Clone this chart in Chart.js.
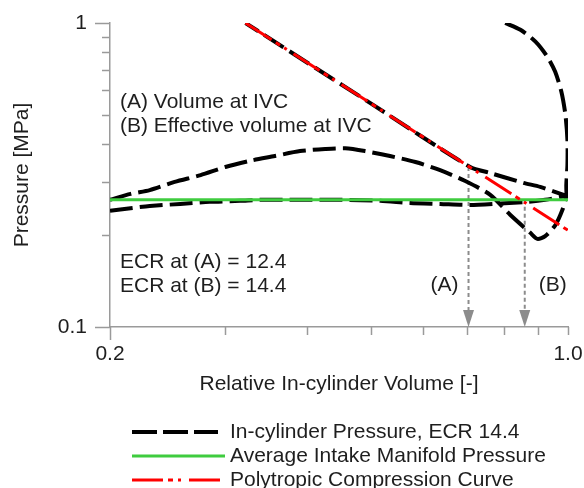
<!DOCTYPE html>
<html><head><meta charset="utf-8">
<script src="https://cdn.jsdelivr.net/npm/chart.js@4/dist/chart.umd.min.js"></script>
<style>html,body{margin:0;padding:0;background:#fff}#wrap{width:584px;height:488px}</style>
</head><body><div id="wrap"><canvas id="c" width="584" height="488"></canvas></div>
<script>
const FONT = "'Liberation Sans', Arial, sans-serif";

// Relative in-cylinder volume [-] and pressure [MPa] along the cycle
const expansionVol = [0.802, 0.846, 0.892, 0.930, 0.956, 0.977, 0.991, 0.998, 0.998, 0.994, 0.995];
const expansionP   = [1.000, 0.950, 0.868, 0.774, 0.691, 0.594, 0.499, 0.412, 0.341, 0.293, 0.270];
const exhaustVol = [0.995, 0.980, 0.956, 0.923, 0.898, 0.876, 0.816, 0.761, 0.697, 0.638, 0.585, 0.535, 0.490, 0.457, 0.426, 0.390, 0.357, 0.327, 0.300, 0.275, 0.251, 0.230, 0.215, 0.200];
const exhaustP   = [0.270, 0.242, 0.216, 0.199, 0.195, 0.204, 0.234, 0.272, 0.302, 0.328, 0.349, 0.365, 0.379, 0.387, 0.385, 0.379, 0.365, 0.352, 0.336, 0.316, 0.300, 0.282, 0.274, 0.262];
const intakeVol = [0.200, 0.215, 0.230, 0.256, 0.284, 0.316, 0.339, 0.390, 0.449, 0.517, 0.574, 0.638, 0.709, 0.788, 0.867, 0.923, 0.995];
const intakeP   = [0.241, 0.246, 0.250, 0.254, 0.258, 0.260, 0.262, 0.262, 0.262, 0.260, 0.256, 0.254, 0.252, 0.255, 0.258, 0.262, 0.270];
const compressionVol = [0.995, 0.907, 0.855, 0.761, 0.709, 0.500, 0.322];
const compressionP   = [0.270, 0.289, 0.298, 0.321, 0.336, 0.544, 1.000];

// Average intake manifold pressure
const manifoldVol = [0.2, 1.0];
const manifoldP   = [0.262, 0.262];

// Polytropic compression curve
const polyVol = [0.322, 0.500, 1.000];
const polyP   = [1.000, 0.544, 0.208];

// IVC markers: (A) volume at IVC, (B) effective volume at IVC
const ivcVol    = [0.705, 0.859];
const ivcP      = [0.336, 0.262];
const ivcLabels = ['(A)', '(B)'];

// Axis ticks
const xTicks = [0.2, 0.3, 0.4, 0.5, 0.6, 0.7, 0.8, 0.9, 1.0];
const xTickLabels = { 0.2: '0.2', 1: '1.0' };
const xLongTicks = [0.2];
const yTicks = [0.1, 0.2, 0.3, 0.4, 0.5, 0.6, 0.7, 0.8, 0.9, 1];
const yTickLabels = { 0.1: '0.1', 1: '1' };
const yLongTicks = [0.1, 1];

const notesTop = ['(A) Volume at IVC', '(B) Effective volume at IVC'];
const notesEcr = ['ECR at (A) = 12.4', 'ECR at (B) = 14.4'];

const seriesNames = ['In-cylinder Pressure, ECR 14.4', 'Average Intake Manifold Pressure', 'Polytropic Compression Curve'];

const pts = (xs, ys) => xs.map((x, i) => ({ x, y: ys[i] }));

const cylinderPath = [
  ...pts(expansionVol, expansionP),
  ...pts(exhaustVol, exhaustP),
  { x: 0.2, y: null },
  ...pts(intakeVol, intakeP),
  ...pts(compressionVol, compressionP)
];

const AXIS = '#9a9a9a';
const TEXT = '#1e1e1e';
const BLACK_DASH = [23, 7];
const RED_DASH = [31, 5, 5, 5, 3, 8];

const decor = {
  id: 'decor',
  beforeDatasetsDraw(chart) {
    const { ctx, scales: { x, y }, chartArea } = chart;
    ctx.save();
    // dotted arrows down to the volume axis
    ctx.strokeStyle = '#8c8c8c';
    ctx.fillStyle = '#8c8c8c';
    ivcVol.forEach((v, i) => {
      const px = x.getPixelForValue(v);
      const py0 = y.getPixelForValue(ivcP[i]);
      const py1 = chartArea.bottom;
      ctx.lineWidth = 2;
      ctx.setLineDash([4, 3]);
      ctx.beginPath();
      ctx.moveTo(px, py0);
      ctx.lineTo(px, py1 - 15);
      ctx.stroke();
      ctx.setLineDash([]);
      ctx.beginPath();
      ctx.moveTo(px - 5.5, py1 - 17);
      ctx.lineTo(px + 5.5, py1 - 17);
      ctx.lineTo(px, py1);
      ctx.closePath();
      ctx.fill();
    });
    ctx.restore();
  },
  afterDraw(chart) {
    const { ctx, scales: { x, y }, chartArea } = chart;
    ctx.save();
    // tick marks
    ctx.strokeStyle = AXIS;
    ctx.lineWidth = 1.5;
    xTicks.forEach(v => {
      const px = Math.round(x.getPixelForValue(v)) + 0.5;
      const len = xLongTicks.includes(v) ? 13 : 8;
      ctx.beginPath();
      ctx.moveTo(px, chartArea.bottom);
      ctx.lineTo(px, chartArea.bottom + len);
      ctx.stroke();
    });
    yTicks.forEach(v => {
      const py = Math.round(y.getPixelForValue(v)) + 0.5;
      const len = yLongTicks.includes(v) ? 15 : 8;
      ctx.beginPath();
      ctx.moveTo(chartArea.left, py);
      ctx.lineTo(chartArea.left - len, py);
      ctx.stroke();
    });

    ctx.fillStyle = TEXT;
    ctx.font = '21px ' + FONT;
    ctx.textBaseline = 'middle';
    // arrow labels
    ivcVol.forEach((v, i) => {
      const px = x.getPixelForValue(v);
      if (i === 0) { ctx.textAlign = 'right'; ctx.fillText(ivcLabels[i], px - 10, chartArea.bottom - 42); }
      else { ctx.textAlign = 'left'; ctx.fillText(ivcLabels[i], px + 14, chartArea.bottom - 42); }
    });
    // notes inside the plot
    ctx.textAlign = 'left';
    notesTop.forEach((t, i) => ctx.fillText(t, chartArea.left + 10, chartArea.top + 79 + i * 24.5));
    notesEcr.forEach((t, i) => ctx.fillText(t, chartArea.left + 10, chartArea.bottom - 65 + i * 24.5));

    // legend
    const rows = [
      { color: '#000000', width: 4, dash: [25, 6], end: 218 },
      { color: '#3fcc3f', width: 3, dash: [], end: 225 },
      { color: '#ff0000', width: 3, dash: RED_DASH, end: 223 }
    ];
    rows.forEach((r, i) => {
      const ly = 432 + i * 24;
      ctx.strokeStyle = r.color;
      ctx.lineWidth = r.width;
      ctx.setLineDash(r.dash);
      ctx.beginPath();
      ctx.moveTo(132, ly);
      ctx.lineTo(r.end, ly);
      ctx.stroke();
      ctx.setLineDash([]);
      ctx.fillStyle = TEXT;
      ctx.fillText(seriesNames[i], 230, ly);
    });
    ctx.restore();
  }
};

new Chart(document.getElementById('c'), {
  type: 'scatter',
  data: {
    datasets: [
      {
        label: seriesNames[0],
        data: cylinderPath,
        showLine: true,
        borderColor: '#000000',
        borderWidth: 4,
        borderDash: BLACK_DASH,
        pointRadius: 0,
        tension: 0.25,
        spanGaps: false,
        order: 3
      },
      {
        label: seriesNames[1],
        data: pts(manifoldVol, manifoldP),
        showLine: true,
        borderColor: '#3fcc3f',
        borderWidth: 3,
        pointRadius: 0,
        order: 2
      },
      {
        label: seriesNames[2],
        data: pts(polyVol, polyP),
        showLine: true,
        borderColor: '#ff0000',
        borderWidth: 3,
        borderDash: RED_DASH,
        pointRadius: 0,
        order: 1
      }
    ]
  },
  options: {
    responsive: false,
    animation: false,
    devicePixelRatio: 1,
    layout: { padding: { top: 23, right: 16, bottom: 91, left: 0 } },
    plugins: { legend: { display: false }, tooltip: { enabled: false } },
    scales: {
      x: {
        type: 'logarithmic',
        min: 0.2, max: 1,
        grid: { display: false, drawTicks: false },
        border: { display: true, color: AXIS, width: 1.5 },
        afterBuildTicks: s => { s.ticks = xTicks.map(v => ({ value: v })); },
        afterFit: s => { s.height = 70; s.paddingLeft = 0; s.paddingRight = 0; },
        ticks: {
          autoSkip: false, maxRotation: 0, padding: 15, color: TEXT,
          font: { family: FONT, size: 21 },
          callback: v => xTickLabels[v] ?? ''
        },
        title: { display: true, text: 'Relative In-cylinder Volume [-]', color: TEXT, font: { family: FONT, size: 21 }, padding: 0 }
      },
      y: {
        type: 'logarithmic',
        min: 0.1, max: 1,
        grid: { display: false, drawTicks: false },
        border: { display: true, color: AXIS, width: 1.5 },
        afterBuildTicks: s => { s.ticks = yTicks.map(v => ({ value: v })); },
        afterFit: s => { s.width = 110; s.paddingTop = 0; s.paddingBottom = 0; },
        ticks: {
          autoSkip: false, padding: 23, color: TEXT,
          font: { family: FONT, size: 21 },
          callback: v => yTickLabels[v] ?? ''
        },
        title: { display: true, text: 'Pressure [MPa]', color: TEXT, font: { family: FONT, size: 21 }, padding: { top: 10, bottom: 0 } }
      }
    }
  },
  plugins: [decor]
});
</script>
</body></html>
